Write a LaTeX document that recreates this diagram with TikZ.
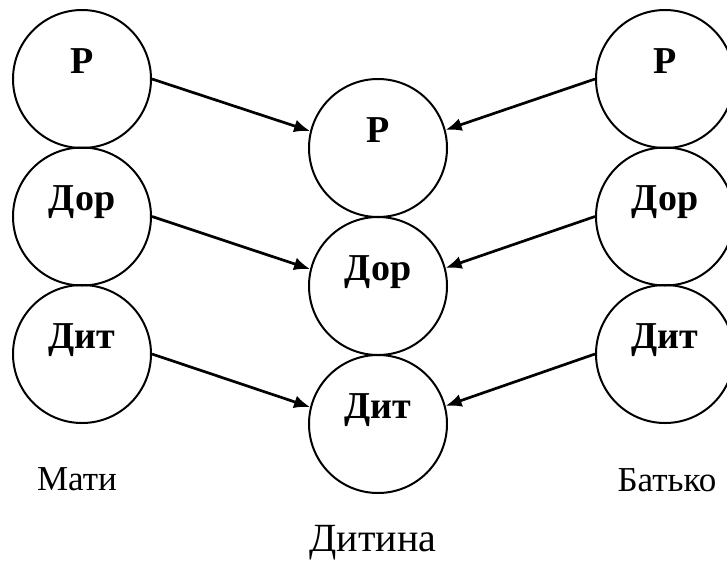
\documentclass[tikz,border=0pt]{standalone}
\usepackage{fontspec}
\setmainfont{Liberation Serif}
\usetikzlibrary{arrows.meta}

\begin{document}
\begin{tikzpicture}[x=1pt,y=-1pt,
    gene/.style={circle,draw,line width=2pt,minimum size=138pt,inner sep=0pt,
      text height=18pt,text depth=30pt,font=\fontsize{38}{40}\selectfont\bfseries},
    arr/.style={-{Latex[length=16pt,width=13pt]},line width=2.7pt},
    persona/.style={anchor=base,font=\fontsize{35}{38}\selectfont}]
  \useasboundingbox (0,0) rectangle (727,560);
  \foreach \lab [count=\i] in {Р,Дор,Дит}{
    \node[gene](l\i)at(82,{79+137.5*(\i-1)}){\lab};
    \node[gene](m\i)at(378,{148+138*(\i-1)}){\lab};
    \node[gene](r\i)at(665,{79+137.5*(\i-1)}){\lab};
    \draw[arr](l\i.east)--(m\i.166);
    \draw[arr](r\i.west)--(m\i.15);
  }
  \node[persona](mati)at(77,490){Мати};
  \node[persona](batko)at(667,491){Батько};
  \node[persona,font=\fontsize{40}{44}\selectfont](dytyna)at(373,551){Дитина};
\end{tikzpicture}
\end{document}
